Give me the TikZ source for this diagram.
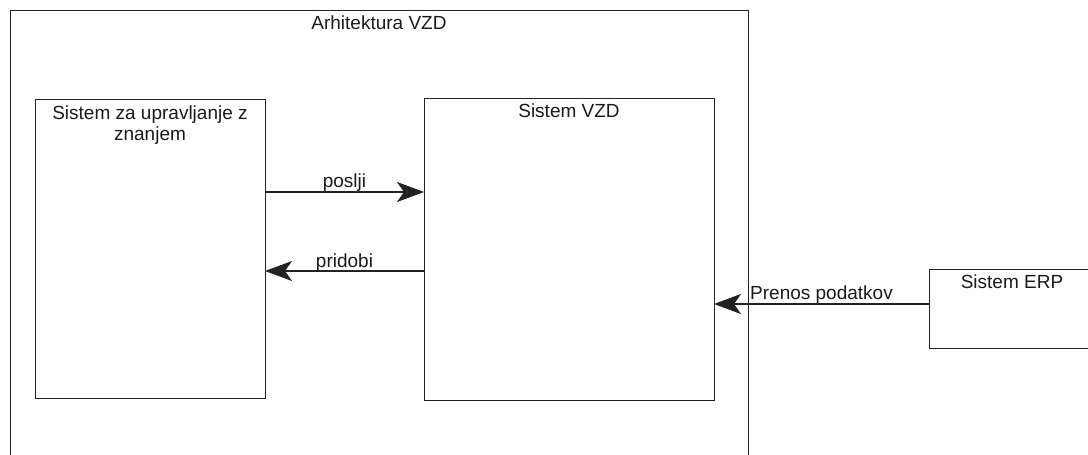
\documentclass[tikz,border=0pt]{standalone}
\usepackage{fontspec}
\setmainfont{Liberation Sans}
\usetikzlibrary{arrows.meta}
\definecolor{edge}{HTML}{222222}
\definecolor{txt}{HTML}{1A1A1A}
\tikzset{
  box/.style={draw=edge, line width=1.3pt, fill=none, inner sep=0pt, anchor=north west},
  lbl/.style={text=txt, font=\fontsize{19}{21}\selectfont, inner sep=0pt, anchor=base},
  conn/.style={draw=edge, line width=1.3pt, -{Stealth[length=27pt, width=20pt, inset=7pt]}},
}
\begin{document}
\begin{tikzpicture}[x=1pt, y=-1pt]
\useasboundingbox (0,0) rectangle (1088,455);
\clip (0,0) rectangle (1088,455);
\fill[white] (0,0) rectangle (1088,455);
% boxes
\node[box, minimum width=738pt, minimum height=470pt] (outer) at (10,10) {};
\node[box, minimum width=230pt, minimum height=299pt] (sup) at (35,99) {};
\node[box, minimum width=290pt, minimum height=302pt] (vzd) at (424,98) {};
\node[box, minimum width=170pt, minimum height=79pt] (erp) at (929,269) {};
% titles
\node[lbl] (tout) at (379,30) {Arhitektura VZD};
\node[lbl, align=center] (tsup) at (150,140) {Sistem za upravljanje z\\znanjem};
\node[lbl] (tvzd) at (569,117) {Sistem VZD};
\node[lbl] (terp) at (1012,288) {Sistem ERP};
% connectors
\coordinate (a1) at (265,192);
\coordinate (b1) at (424,192);
\coordinate (a2) at (424,271);
\coordinate (b2) at (265,271);
\coordinate (a3) at (929,304);
\coordinate (b3) at (714,304);
\draw[conn] (a1) -- node[lbl, yshift=5pt] (lposli) {poslji} (b1);
\draw[conn] (a2) -- node[lbl, yshift=4pt] (lpridobi) {pridobi} (b2);
\draw[conn] (a3) -- node[lbl, yshift=5pt] (lprenos) {Prenos podatkov} (b3);
\end{tikzpicture}
\end{document}
